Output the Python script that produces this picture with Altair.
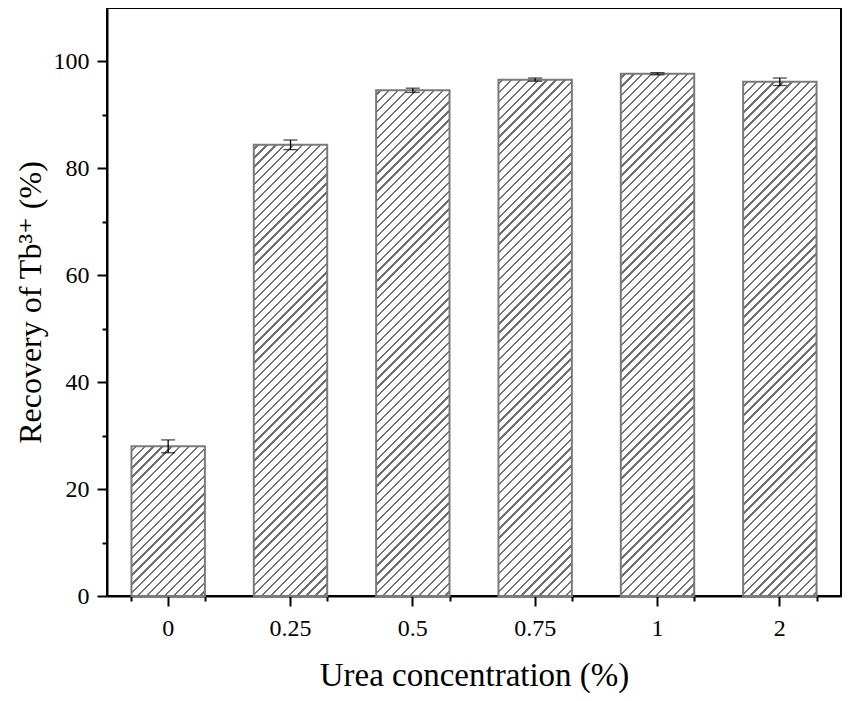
import math
import altair as alt
import pandas as pd

categories = ["0", "0.25", "0.5", "0.75", "1", "2"]
recovery = [28.0, 84.4, 94.6, 96.6, 97.7, 96.2]
errors = [1.2, 0.9, 0.4, 0.3, 0.2, 0.7]

W = 734
H = 588
YMAX = 110
P_IN, P_OUT = 0.4, 0.2
FONT = "Times New Roman, Liberation Serif, Times, DejaVu Serif, serif"

df = pd.DataFrame({"cat": categories, "rec": recovery, "err": errors})
df["lo"] = df["rec"] - df["err"]
df["hi"] = df["rec"] + df["err"]

step = W / (len(categories) - P_IN + 2 * P_OUT)
bw = step * (1 - P_IN)


def hatch(value, spacing=6.3, thick=1.6, color="#707070"):
    w = bw
    h = value / YMAX * H
    k = (w + h) / (w * w + h * h)
    L = (w + h) / math.sqrt(2)
    half = thick / 2 / L
    stops = [{"offset": 0, "color": "white"}]
    j = 0
    while True:
        c = (j * spacing + spacing / 2) / L
        a, b = c - half, c + half
        if a >= 1:
            break
        a = round(max(a, 0), 6)
        b = round(min(b, 1), 6)
        stops += [
            {"offset": a, "color": "white"},
            {"offset": a, "color": color},
            {"offset": b, "color": color},
            {"offset": b, "color": "white"},
        ]
        j += 1
    stops.append({"offset": 1, "color": "white"})
    return {"gradient": "linear", "x1": 0, "y1": 0,
            "x2": round(k * w, 6), "y2": round(k * h, 6), "stops": stops}


xscale = alt.Scale(domain=categories, paddingInner=P_IN, paddingOuter=P_OUT)
yscale = alt.Scale(domain=[0, YMAX], nice=False, zero=True)

main_x_axis = alt.Axis(
    title="Urea concentration (%)", labelAngle=0, tickSize=10, tickWidth=2,
    domainWidth=2, domainColor="black", tickColor="black",
    labelFont=FONT, labelFontSize=24, labelColor="black", labelPadding=10,
    titleFont=FONT, titleFontSize=33, titleFontWeight="normal", titleColor="black",
    titlePadding=19,
)
main_y_axis = alt.Axis(
    title="Recovery of Tb³⁺ (%)", values=[0, 20, 40, 60, 80, 100], tickSize=10,
    tickWidth=2, domainWidth=2, domainColor="black", tickColor="black",
    labelFont=FONT, labelFontSize=24, labelColor="black", labelPadding=8,
    titleFont=FONT, titleFontSize=32, titleFontWeight="normal", titleColor="black",
    titlePadding=6, grid=False,
)
minor_x_axis = alt.Axis(
    title=None, labels=False, domain=False, tickBand="extent", tickSize=5,
    tickWidth=2, tickColor="black", orient="bottom",
)
minor_y_axis = alt.Axis(
    title=None, labels=False, domain=False, values=[10, 30, 50, 70, 90],
    tickSize=5, tickWidth=2, tickColor="black", orient="left", grid=False,
)

layers = []
for i, (c, v) in enumerate(zip(categories, recovery)):
    layer = alt.Chart(df).transform_filter(alt.datum.cat == c).mark_bar(
        fill=hatch(v), stroke="#7a7a7a", strokeWidth=2
    ).encode(
        x=alt.X("cat:N", scale=xscale, axis=main_x_axis if i == 0 else None),
        y=alt.Y("rec:Q", scale=yscale, axis=main_y_axis if i == 0 else None),
    )
    layers.append(layer)

err_rule = alt.Chart(df).mark_rule(color="black", strokeWidth=1.3).encode(
    x=alt.X("cat:N", scale=xscale, axis=minor_x_axis),
    y=alt.Y("lo:Q", scale=yscale, axis=minor_y_axis),
    y2="hi:Q",
)
cap_lo = alt.Chart(df).mark_tick(color="black", size=14, thickness=1.3).encode(
    x=alt.X("cat:N", scale=xscale, axis=None),
    y=alt.Y("lo:Q", scale=yscale, axis=None),
)
cap_hi = alt.Chart(df).mark_tick(color="black", size=14, thickness=1.3).encode(
    x=alt.X("cat:N", scale=xscale, axis=None),
    y=alt.Y("hi:Q", scale=yscale, axis=None),
)

chart = alt.layer(*layers, err_rule, cap_lo, cap_hi).resolve_axis(
    x="independent", y="independent"
).properties(
    width=W, height=H,
    autosize=alt.AutoSizeParams(type="none"),
    padding={"left": 99, "top": 0, "right": 2, "bottom": 97},
    background="white",
).configure_view(stroke="black", strokeWidth=2)

chart.save("out.html", embed_options={"renderer": "svg", "actions": False})
